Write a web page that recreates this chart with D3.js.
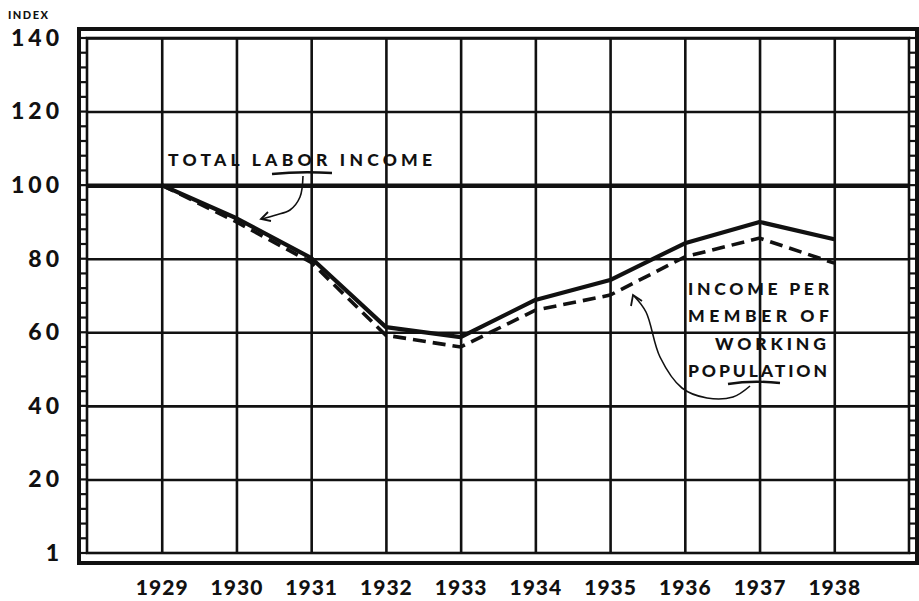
<!DOCTYPE html>
<html><head><meta charset="utf-8">
<script src="https://cdn.jsdelivr.net/npm/d3@7/dist/d3.min.js"></script>
<style>body{margin:0;background:#fff}svg{display:block}</style>
</head><body>
<svg id="c" width="919" height="601"></svg>
<script>
const years = [1929,1930,1931,1932,1933,1934,1935,1936,1937,1938];
const totalLaborIncome = [100, 91, 80.2, 61.4, 58.7, 68.8, 74.2, 84.2, 90, 85.3];
const incomePerMember = [100, 90, 79, 59.2, 56, 66, 70.1, 80.5, 85.6, 78.8];
const yTickValues = [0,20,40,60,80,100,120,140];
const yTickLabels = ["1","20","40","60","80","100","120","140"];
const ladderValues = d3.range(0, 141, 4);

const svg = d3.select("#c");
const ink = "#111";
const pL = 87, pR = 909, pT = 38, pB = 553;
const x = d3.scaleLinear().domain([1928, 1939]).range([pL, pR]);
const y = d3.scaleLinear().domain([0, 140]).range([pB, pT]);

// gridlines
const gx = svg.append("g").attr("transform", `translate(0,${pB})`)
  .call(d3.axisTop(x).tickValues(years).tickSize(pB - pT).tickFormat(""));
gx.select(".domain").remove();
gx.selectAll("line").attr("stroke", ink).attr("stroke-width", 2.6);

const gy = svg.append("g").attr("transform", `translate(${pL},0)`)
  .call(d3.axisRight(y).tickValues([20,40,60,80,100,120,140]).tickSize(pR - pL).tickFormat(""));
gy.select(".domain").remove();
gy.selectAll("line").attr("stroke", ink).attr("stroke-width", d => d === 100 ? 4.5 : 2.6);

// frame
svg.append("rect").attr("x", 79).attr("y", 29).attr("width", 917 - 79).attr("height", 563 - 29)
  .attr("fill", "none").attr("stroke", ink).attr("stroke-width", 4);
svg.append("rect").attr("x", pL).attr("y", pT).attr("width", pR - pL).attr("height", pB - pT)
  .attr("fill", "none").attr("stroke", ink).attr("stroke-width", 2.6);
// ladder ticks
[[79, pL], [pR, 917]].forEach(([a, b]) => {
  svg.append("g").selectAll("line").data(ladderValues).join("line")
    .attr("x1", a).attr("x2", b).attr("y1", d => y(d)).attr("y2", d => y(d))
    .attr("stroke", ink).attr("stroke-width", 2.2);
});

// y labels
const ya = svg.append("g").attr("transform", "translate(66,0)")
  .call(d3.axisLeft(y).tickValues(yTickValues).tickSize(0)
    .tickFormat(d => yTickLabels[yTickValues.indexOf(d)]));
ya.select(".domain").remove();
ya.selectAll("text").attr("font-family", "Lato").attr("font-weight", 900).attr("font-size", 23)
  .attr("letter-spacing", 4).attr("fill", ink).attr("dx", 0);

// x labels
const xa = svg.append("g").attr("transform", "translate(0,577)")
  .call(d3.axisBottom(x).tickValues(years).tickSize(0).tickFormat(d3.format("d")));
xa.select(".domain").remove();
xa.selectAll("text").attr("font-family", "Lato").attr("font-weight", 900).attr("font-size", 21)
  .attr("letter-spacing", 1).attr("fill", ink);

svg.append("text").attr("x", 8).attr("y", 19).text("INDEX")
  .attr("font-family", "Lato").attr("font-weight", 900).attr("font-size", 11)
  .attr("letter-spacing", 1.5).attr("fill", ink);

// series
const line = d3.line().x((d, i) => x(years[i])).y(d => y(d));
svg.append("path").datum(incomePerMember).attr("d", line).attr("fill", "none")
  .attr("stroke", ink).attr("stroke-width", 3.6).attr("stroke-dasharray", "13,7");
svg.append("path").datum(totalLaborIncome).attr("d", line).attr("fill", "none")
  .attr("stroke", ink).attr("stroke-width", 4.2).attr("stroke-linejoin", "round");

// annotations
const ann = (tx, ty, s, anchor) => svg.append("text").attr("x", tx).attr("y", ty).text(s)
  .attr("font-family", "Lato").attr("font-weight", 900).attr("font-size", 17.5)
  .attr("letter-spacing", 1).attr("text-anchor", anchor || "start").attr("fill", ink);
ann(168, 166, "TOTAL LABOR INCOME").attr("textLength", 265);
ann(688, 295, "INCOME PER").attr("textLength", 142);
ann(688, 322, "MEMBER OF").attr("textLength", 142);
ann(715, 350, "WORKING").attr("textLength", 112);
ann(688, 377, "POPULATION").attr("textLength", 140);

svg.append("path").attr("d", "M272,174 Q300,171 332,173").attr("fill", "none").attr("stroke", ink).attr("stroke-width", 2.4);
svg.append("path").attr("d", "M728,384 Q752,380 780,383").attr("fill", "none").attr("stroke", ink).attr("stroke-width", 2.4);

const curve = d3.line().curve(d3.curveCatmullRom);
svg.append("path").attr("d", curve([[303,176],[300,197],[290,210],[276,215],[262,219]]))
  .attr("fill", "none").attr("stroke", ink).attr("stroke-width", 1.6);
svg.append("path").attr("d", "M268,212 L261,219 L271,221").attr("fill", "none").attr("stroke", ink).attr("stroke-width", 1.8);
svg.append("path").attr("d", curve([[750,386],[733,397],[707,398],[682,388],[660,357],[646,312],[634,296]]))
  .attr("fill", "none").attr("stroke", ink).attr("stroke-width", 1.6);
svg.append("path").attr("d", "M631,306 L633,295 L642,301").attr("fill", "none").attr("stroke", ink).attr("stroke-width", 1.8);
</script>
</body></html>
